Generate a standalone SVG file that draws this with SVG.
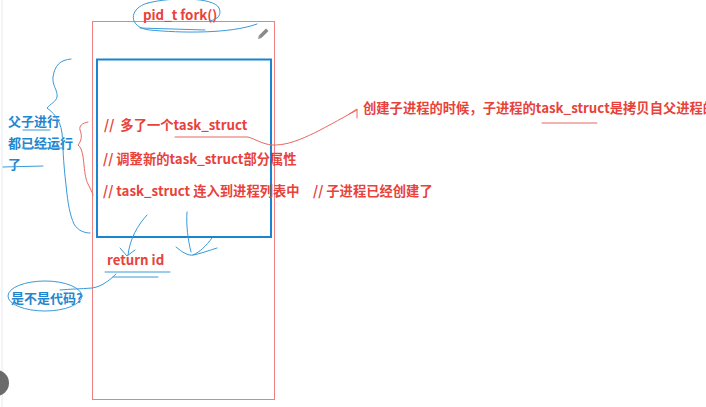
<svg xmlns="http://www.w3.org/2000/svg" width="706" height="407" viewBox="0 0 706 407">
<style>
.r{fill:#e8423b;font-family:"Noto Sans CJK SC","Noto Sans",sans-serif;font-weight:bold;font-size:13.3px}
.b{fill:#1f86cf;font-family:"Noto Sans CJK SC","Noto Sans",sans-serif;font-weight:bold;font-size:13px}
.bl{fill:none;stroke:#3a9ad9;stroke-width:1;stroke-linecap:round}
.rl{fill:none;stroke:#e8675f;stroke-width:1;stroke-linecap:round}
</style>
<rect width="706" height="407" fill="#ffffff"/>
<line x1="2" y1="0" x2="2" y2="407" stroke="#e4e8ee" stroke-width="1"/>
<circle cx="-4" cy="383" r="13" fill="#6b6b6b"/>
<g id="frame">
<rect x="92.5" y="21.5" width="182" height="378" fill="none" stroke="#f08080" stroke-width="1"/>
</g>
<g id="box">
<rect x="97" y="59.5" width="174" height="177.5" fill="none" stroke="#1a84d0" stroke-width="2"/>
</g>
<g id="pencil" transform="translate(263,34) rotate(45)">
<rect x="-1.8" y="-6" width="3.6" height="10" fill="#8a8a8a"/>
<path d="M-1.8 4 L1.8 4 L0 7 Z" fill="#8a8a8a"/>
</g>
<g id="title">
<text class="r" x="143" y="20" font-size="14">pid_t fork()</text>
</g>
<g id="steps">
<text class="r" x="104" y="130" xml:space="preserve">//  多了一个task_struct</text>
<text class="r" x="103" y="164">// 调整新的task_struct部分属性</text>
<text class="r" x="103" y="196">// task_struct 连入到进程列表中</text>
<text class="r" x="313" y="196">// 子进程已经创建了</text>
<text class="r" x="107" y="265">return id</text>
</g>
<g id="note">
<text class="r" x="363" y="113" font-size="13">创建子进程的时候，子进程的task_struct是拷贝自父进程的</text>
</g>
<g id="sideNote">
<text class="b" x="8" y="126">父子进行</text>
<text class="b" x="8" y="148">都已经运行</text>
<text class="b" x="8" y="169">了</text>
</g>
<g id="question">
<text class="b" x="11" y="303">是不是代码?</text>
</g>
<g id="connectors">
<path class="bl" d="M148 3 C128 8 128 28 150 30 C180 33 230 34 257 24"/>
<path class="bl" d="M148 3 C170 -3 214 -3 219 8 C222 15 218 19 210 21"/>
<path class="bl" d="M140 28 L205 30"/>
<path class="bl" d="M71 59 C60 60 55 65 53 77 C52 86 58 90 57 97 C56 102 50 104 47 108 C52 112 60 118 62 133 C63 145 63 160 66 185 C68 205 70 215 74 224 C78 231 85 233 90 233"/>
<path class="rl" d="M88 122 C82 123 79 126 80 130 C82 135 82 140 78 145 C82 148 83 155 84 165 C85 175 86 180 88 184 C90 188 92 192 93 195"/>
<path class="rl" d="M175 137 L248 137 C255 139 262 144 272 145 C295 146 320 130 357 110"/>
<path class="rl" d="M349 114 L357 109 L357 118"/>
<path class="rl" d="M542 123 L597 123"/>
<path class="bl" d="M23 130 L50 130"/>
<path class="bl" d="M22 148 L62 148"/>
<path class="bl" d="M3 167 L43 166"/>
<path class="bl" d="M147 215 C138 225 130 238 128 255"/>
<path class="bl" d="M120 248 L127 256 L135 250"/>
<path class="bl" d="M187 212 C186 225 188 240 191 252"/>
<path class="bl" d="M176 247 C182 252 188 256 193 255 C200 254 210 250 217 248"/>
<path class="bl" d="M212 238 C206 246 200 252 193 255"/>
<path class="bl" d="M105 272 L170 272"/>
<path class="bl" d="M113 277 L158 277"/>
<path class="bl" d="M116 274 C108 282 100 287 92 288 C80 289 70 289 60 290"/>
<ellipse class="bl" cx="45" cy="296" rx="37" ry="15"/>
</g>
</svg>
